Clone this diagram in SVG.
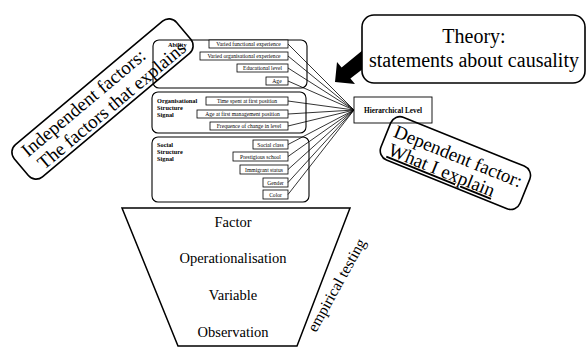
<svg xmlns="http://www.w3.org/2000/svg" width="587" height="347" viewBox="0 0 587 347">
<style>
.grp{fill:#fff;stroke:#000;stroke-width:1.1}
.sub{fill:#fff;stroke:#000;stroke-width:0.8}
.st{font-family:"Liberation Serif",serif;font-size:5.6px;fill:#000;text-anchor:middle}
.lb{font-family:"Liberation Serif",serif;font-size:6.3px;font-weight:bold;fill:#000}
.big{font-family:"Liberation Serif",serif;font-size:19px;fill:#000;text-anchor:middle}
.mid{font-family:"Liberation Serif",serif;font-size:14.5px;fill:#000;text-anchor:middle}
.rb{fill:none;stroke:#000;stroke-width:1.6}
.con{stroke:#000;stroke-width:0.8;fill:none}
</style>
<g id="theory-arrow">
<polygon points="335,82 337,62 341.6,67.6 380,36 390,48 350.4,78.4 355,84" fill="#000"/>
</g>
<g id="ability">
<rect class="grp" x="153" y="40" width="154" height="48" rx="6"/>
<text class="lb" x="168" y="47">Ability</text>
<rect class="sub" x="209" y="40" width="79" height="8"/>
<text class="st" x="248.5" y="46">Varied functional experience</text>
<rect class="sub" x="200" y="52" width="88" height="8"/>
<text class="st" x="244" y="58">Varied organisational experience</text>
<rect class="sub" x="237" y="64" width="51" height="8"/>
<text class="st" x="262.5" y="70">Educational level</text>
<rect class="sub" x="266" y="77" width="22" height="8"/>
<text class="st" x="277" y="83">Age</text>
</g>
<g id="organisational">
<rect class="grp" x="152" y="92" width="154" height="41" rx="6"/>
<text class="lb" x="157" y="103">Organisational</text>
<text class="lb" x="157" y="110">Structure</text>
<text class="lb" x="157" y="117">Signal</text>
<rect class="sub" x="206" y="97" width="82" height="8"/>
<text class="st" x="247" y="103">Time spent at first position</text>
<rect class="sub" x="197" y="110" width="91" height="8"/>
<text class="st" x="242.5" y="116">Age at first management position</text>
<rect class="sub" x="210" y="122" width="78" height="8"/>
<text class="st" x="249" y="128">Frequence of change in level</text>
</g>
<g id="social">
<rect class="grp" x="152" y="137" width="157" height="65" rx="6"/>
<text class="lb" x="157" y="147">Social</text>
<text class="lb" x="157" y="154">Structure</text>
<text class="lb" x="157" y="161">Signal</text>
<rect class="sub" x="253" y="140" width="35" height="9"/>
<text class="st" x="270.5" y="146.5">Social class</text>
<rect class="sub" x="233" y="152" width="55" height="9"/>
<text class="st" x="260.5" y="158.5">Prestigious school</text>
<rect class="sub" x="240" y="165" width="48" height="9"/>
<text class="st" x="264" y="171.5">Immigrant status</text>
<rect class="sub" x="263" y="178" width="25" height="9"/>
<text class="st" x="275.5" y="184.5">Gender</text>
<rect class="sub" x="263" y="190" width="25" height="9"/>
<text class="st" x="275.5" y="196.5">Color</text>
</g>
<g id="connectors">
<line class="con" x1="288" y1="44" x2="354" y2="110"/>
<line class="con" x1="288" y1="56" x2="354" y2="110"/>
<line class="con" x1="288" y1="68" x2="354" y2="110"/>
<line class="con" x1="288" y1="81" x2="354" y2="110"/>
<line class="con" x1="288" y1="101" x2="354" y2="110"/>
<line class="con" x1="288" y1="114" x2="354" y2="110"/>
<line class="con" x1="288" y1="126" x2="354" y2="110"/>
<line class="con" x1="288" y1="144.5" x2="354" y2="110"/>
<line class="con" x1="288" y1="156.5" x2="354" y2="110"/>
<line class="con" x1="288" y1="169.5" x2="354" y2="110"/>
<line class="con" x1="288" y1="182.5" x2="354" y2="110"/>
<line class="con" x1="288" y1="194.5" x2="354" y2="110"/>
</g>
<g id="hierarchical">
<rect x="354" y="97" width="78" height="26" fill="#fff" stroke="#000" stroke-width="0.9"/>
<text x="393" y="112.5" font-family="Liberation Serif, serif" font-size="7.3" font-weight="bold" text-anchor="middle">Hierarchical Level</text>
</g>
<g id="theory">
<rect x="362" y="15" width="223" height="68" rx="12" fill="#fff" stroke="#000" stroke-width="1.6"/>
<text x="474" y="43" font-family="Liberation Serif, serif" font-size="20" text-anchor="middle">Theory:</text>
<text x="474" y="67" font-family="Liberation Serif, serif" font-size="20" text-anchor="middle">statements about causality</text>
</g>
<g id="independent" transform="translate(102.5,99) rotate(-40)">
<rect class="rb" x="-106" y="-21" width="212" height="42" rx="10"/>
<text class="big" x="-17" y="-3">Independent factors:</text>
<text class="big" x="3" y="17">The factors that explains</text>
</g>
<g id="dependent" transform="translate(455,164) rotate(22)">
<rect class="rb" x="-75" y="-24" width="150" height="46" rx="10"/>
<text class="big" x="0" y="-2">Dependent factor:</text>
<text class="big" x="-10" y="17" text-decoration="underline">What I explain</text>
</g>
<g id="funnel">
<polygon points="122,208 350,208 297,346 178,346" fill="#fff" stroke="#000" stroke-width="1.5"/>
<text class="mid" x="233" y="227">Factor</text>
<text class="mid" x="233" y="263">Operationalisation</text>
<text class="mid" x="233" y="300">Variable</text>
<text class="mid" x="233" y="337">Observation</text>
</g>
<text transform="translate(316,333) rotate(-61)" font-family="Liberation Serif, serif" font-size="15.5">empirical testing</text>
</svg>
